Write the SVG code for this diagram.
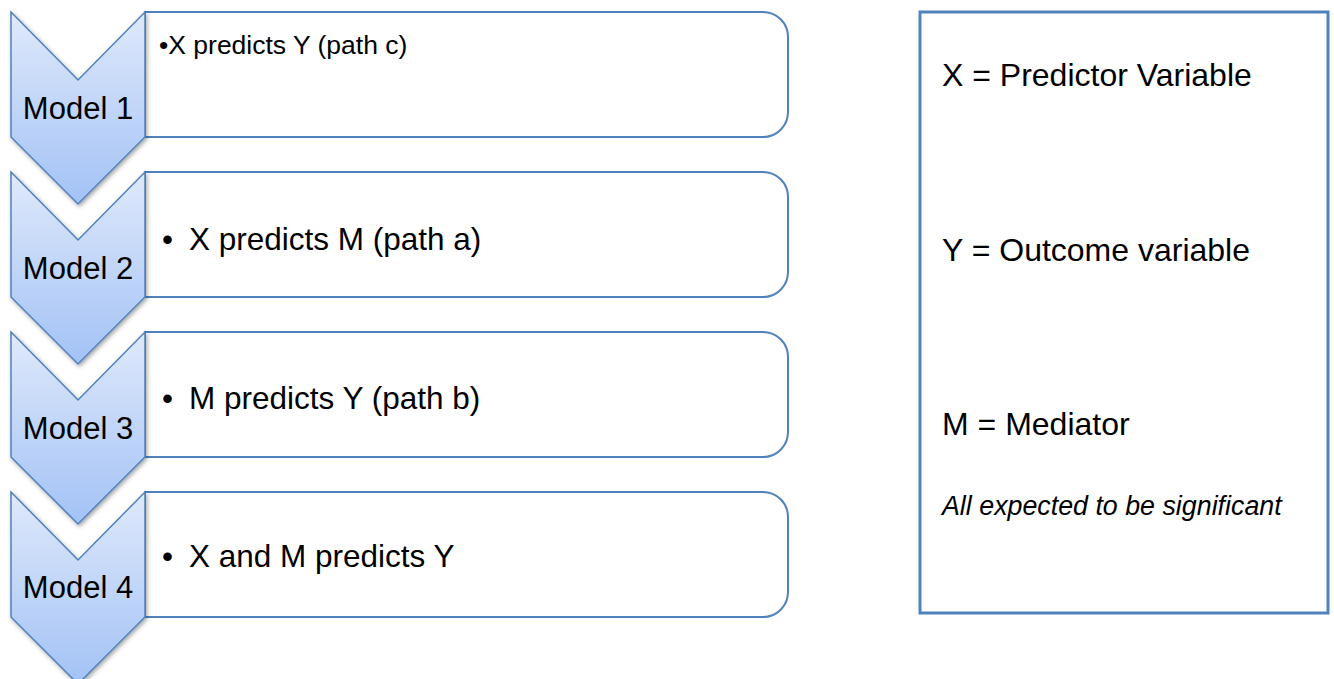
<svg xmlns="http://www.w3.org/2000/svg" width="1334" height="679" viewBox="0 0 1334 679">
<style>
.box{fill:#ffffff;stroke:#4f81bd;stroke-width:2}
.chev{fill:url(#cg);stroke:#4f81bd;stroke-width:1.5;stroke-linejoin:miter;filter:url(#sh)}
.lbl{font-family:"Liberation Sans",Arial,sans-serif;font-size:31px;fill:#000;text-anchor:middle}
.item{font-family:"Liberation Sans",Arial,sans-serif;font-size:31.5px;fill:#000}
.small{font-family:"Liberation Sans",Arial,sans-serif;font-size:26.5px;fill:#000}
.leg{font-family:"Liberation Sans",Arial,sans-serif;font-size:32px;fill:#000}
.it{font-family:"Liberation Sans",Arial,sans-serif;font-size:26.8px;font-style:italic;fill:#000}
</style>
<defs>
<linearGradient id="cg" x1="0" y1="0" x2="0" y2="1">
<stop offset="0" stop-color="#dfe9fb"/>
<stop offset="1" stop-color="#a3c2f5"/>
</linearGradient>
<filter id="sh" x="-20%" y="-20%" width="140%" height="140%">
<feDropShadow dx="1.5" dy="2" stdDeviation="2" flood-color="#000" flood-opacity="0.35"/>
</filter>
</defs>
<rect x="0" y="0" width="1334" height="679" fill="#ffffff"/>
<g id="item1">
<path class="box" d="M145,12 H763 A25,25 0 0 1 788,37 V112 A25,25 0 0 1 763,137 H145 Z"/>
<text class="small" x="159" y="54">•X predicts Y (path c)</text>
</g>
<g id="item2">
<path class="box" d="M145,172 H763 A25,25 0 0 1 788,197 V272 A25,25 0 0 1 763,297 H145 Z"/>
<text class="item" x="162" y="250">•</text>
<text class="item" x="189" y="250">X predicts M (path a)</text>
</g>
<g id="item3">
<path class="box" d="M145,332 H763 A25,25 0 0 1 788,357 V432 A25,25 0 0 1 763,457 H145 Z"/>
<text class="item" x="162" y="409">•</text>
<text class="item" x="189" y="409">M predicts Y (path b)</text>
</g>
<g id="item4">
<path class="box" d="M145,492 H763 A25,25 0 0 1 788,517 V592 A25,25 0 0 1 763,617 H145 Z"/>
<text class="item" x="162" y="567">•</text>
<text class="item" x="189" y="567">X and M predicts Y</text>
</g>
<g id="model1">
<path class="chev" d="M11,12 L78,80 L145,12 L145,137 L78,204 L11,137 Z"/>
<text class="lbl" x="78" y="119">Model 1</text>
</g>
<g id="model2">
<path class="chev" d="M11,172 L78,240 L145,172 L145,297 L78,364 L11,297 Z"/>
<text class="lbl" x="78" y="279">Model 2</text>
</g>
<g id="model3">
<path class="chev" d="M11,332 L78,400 L145,332 L145,457 L78,524 L11,457 Z"/>
<text class="lbl" x="78" y="439">Model 3</text>
</g>
<g id="model4">
<path class="chev" d="M11,492 L78,560 L145,492 L145,617 L78,684 L11,617 Z"/>
<text class="lbl" x="78" y="598">Model 4</text>
</g>
<g id="legend">
<rect x="920" y="12" width="408" height="601" fill="#ffffff" stroke="#4f81bd" stroke-width="3"/>
<text class="leg" x="942" y="86">X = Predictor Variable</text>
<text class="leg" x="942" y="261">Y = Outcome variable</text>
<text class="leg" x="942" y="435">M = Mediator</text>
<text class="it" x="942" y="515">All expected to be significant</text>
</g>
<g id="connectors"></g>
</svg>
